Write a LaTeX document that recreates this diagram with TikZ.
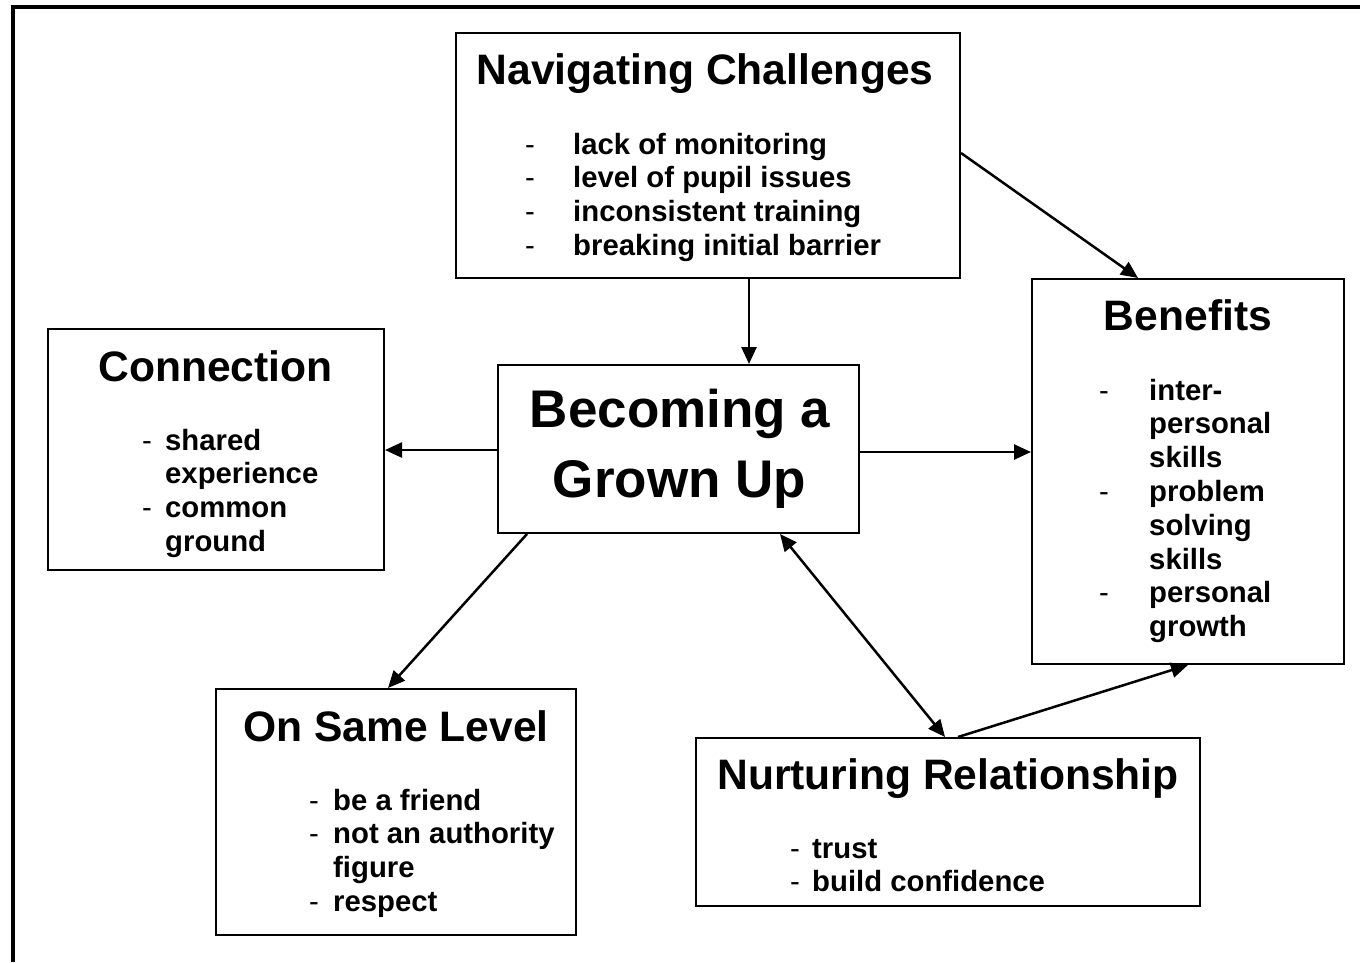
\documentclass[tikz,border=0pt]{standalone}
\usepackage{fontspec}
\setmainfont{Liberation Sans}
\usetikzlibrary{arrows.meta,calc}
\begin{document}
\begin{tikzpicture}[x=1pt,y=-1pt,
  box/.style={draw,line width=2pt,inner sep=0pt},
  title/.style={font=\fontsize{42.6}{48}\selectfont\bfseries,inner sep=0pt,anchor=base},
  bigtitle/.style={font=\fontsize{53}{60}\selectfont\bfseries,inner sep=0pt,anchor=base},
  listtext/.style={font=\fontsize{29.3}{33.8}\selectfont\bfseries,inner sep=0pt,anchor=base west},
  arr/.style={line width=2.5pt,-{Triangle[length=17pt,width=15pt]}},
  darr/.style={line width=2.5pt,{Triangle[length=17pt,width=15pt]}-{Triangle[length=17pt,width=15pt]}},
  frame/.style={line width=4pt}]
\useasboundingbox (0,0) rectangle (1360,962);
% outer frame
\coordinate (fa) at (13,962);
\coordinate (fb) at (13,7);
\coordinate (fc) at (1360,7);
\draw[frame] (fa) -- (fb) -- (fc);
% boxes
\node[box,minimum width=504pt,minimum height=245pt] (nav) at (708,155.5) {};
\node[box,minimum width=336pt,minimum height=241pt] (con) at (216,449.5) {};
\node[box,minimum width=361pt,minimum height=168pt] (grow) at (678.5,449) {};
\node[box,minimum width=312pt,minimum height=385pt] (ben) at (1188,471.5) {};
\node[box,minimum width=360pt,minimum height=246pt] (same) at (396,812) {};
\node[box,minimum width=504pt,minimum height=168pt] (nur) at (948,822) {};
% titles
\node[title] (navt) at (705,84) {Navigating Challenges};
\node[title] (cont) at (215.5,381) {Connection};
\node[title] (bent) at (1188,330) {Benefits};
\node[title] (samet) at (396,741) {On Same Level};
\node[title] (nurt) at (948,789) {Nurturing Relationship};
\node[bigtitle] (growa) at (680,427) {Becoming a};
\node[bigtitle] (growb) at (679.5,497) {Grown Up};
% lists
\node[listtext] (navl) at (525,154) {\begin{tabular}[t]{@{}p{48pt}@{}l@{}}
{\mdseries -}&lack of monitoring\\
{\mdseries -}&level of pupil issues\\
{\mdseries -}&inconsistent training\\
{\mdseries -}&breaking initial barrier
\end{tabular}};
\node[listtext] (conl) at (142,450) {\begin{tabular}[t]{@{}p{23pt}@{}l@{}}
{\mdseries -}&shared\\
&experience\\
{\mdseries -}&common\\
&ground
\end{tabular}};
\node[listtext] (benl) at (1099,400) {\begin{tabular}[t]{@{}p{50pt}@{}l@{}}
{\mdseries -}&inter-\\
&personal\\
&skills\\
{\mdseries -}&problem\\
&solving\\
&skills\\
{\mdseries -}&personal\\
&growth
\end{tabular}};
\node[listtext] (samel) at (309,810) {\begin{tabular}[t]{@{}p{24pt}@{}l@{}}
{\mdseries -}&be a friend\\
{\mdseries -}&not an authority\\
&figure\\
{\mdseries -}&respect
\end{tabular}};
\node[listtext] (nurl) at (790,858) {\begin{tabular}[t]{@{}p{22pt}@{}l@{}}
{\mdseries -}&trust\\
{\mdseries -}&build confidence
\end{tabular}};
% connectors
\draw[arr] ([xshift=41pt]nav.south) -- ([xshift=70.5pt]grow.north);
\draw[arr] ([yshift=2.5pt]nav.east) -- ([xshift=-50pt]ben.north);
\draw[arr] ([yshift=-1pt]grow.west) -- ([yshift=-0.5pt]con.east);
\draw[arr] ([yshift=-3pt]grow.east) -- ([yshift=19.5pt]ben.west);
\draw[arr] ([xshift=-151.5pt]grow.south) -- ([xshift=-8pt]same.north);
\draw[darr] ([xshift=101.5pt]grow.south) -- ([xshift=-3pt]nur.north);
\draw[arr] ([xshift=10pt]nur.north) -- (ben.south);
\end{tikzpicture}
\end{document}
